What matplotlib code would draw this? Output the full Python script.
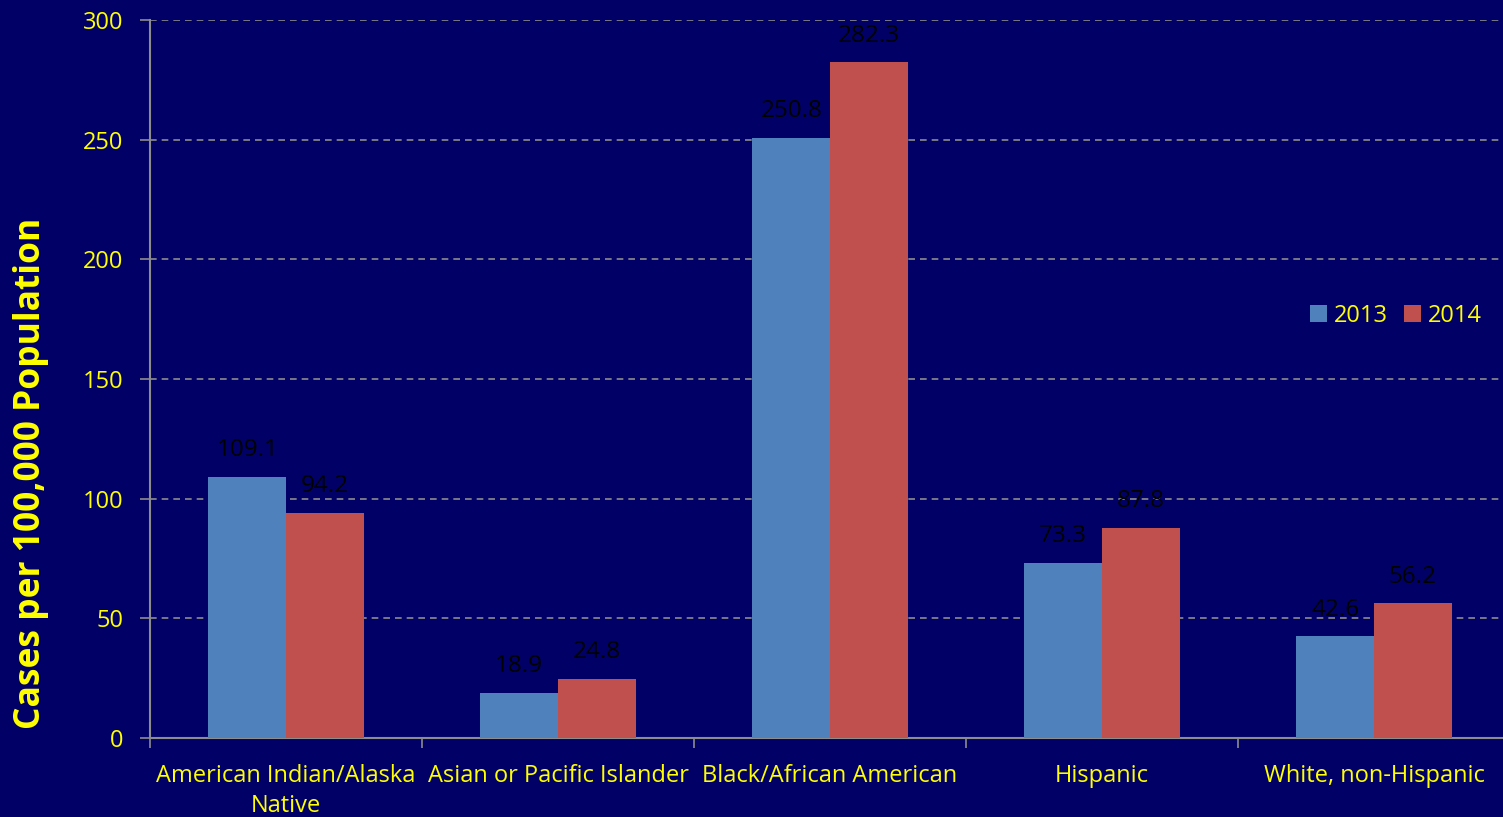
import matplotlib.pyplot as plt
import numpy as np

categories = ['American Indian/Alaska\nNative', 'Asian or Pacific Islander',
              'Black/African American', 'Hispanic', 'White, non-Hispanic']
rates_2013 = [109.1, 18.9, 250.8, 73.3, 42.6]
rates_2014 = [94.2, 24.8, 282.3, 87.8, 56.2]
years = ['2013', '2014']

bg = '#000066'
yellow = '#FFFF00'
grey = '#8C8C8C'

plt.rcParams['font.family'] = ['Open Sans', 'DejaVu Sans']

fig = plt.figure(figsize=(15.03, 8.17), dpi=100, facecolor=bg)
ax = fig.add_axes([150 / 1503, 79 / 817, 1360 / 1503, 718 / 817])
ax.set_facecolor(bg)

x = np.arange(len(categories))
w = 0.285
b1 = ax.bar(x - w / 2, rates_2013, w, color='#4F81BD', label=years[0], zorder=3)
b2 = ax.bar(x + w / 2, rates_2014, w, color='#C0504D', label=years[1], zorder=3)

for bars, vals in [(b1, rates_2013), (b2, rates_2014)]:
    for bar, v in zip(bars, vals):
        ax.annotate(f'{v}', (bar.get_x() + bar.get_width() / 2, v),
                    xytext=(0, 19), textcoords='offset points',
                    ha='center', va='center', fontsize=17.5, color='black')

ax.set_xlim(-0.5, len(categories) - 0.5)
ax.set_ylim(0, 300)
ax.set_yticks(range(0, 301, 50))
ax.yaxis.grid(True, linestyle=(0, (4, 3)), color=grey, linewidth=1.2, zorder=0)

ax.set_xticks(np.arange(-0.5, len(categories), 1))
ax.set_xticklabels([])
ax.set_xticks(x, minor=True)
ax.set_xticklabels(categories, minor=True, linespacing=1.3)
ax.tick_params(axis='x', which='major', length=7, color=grey, width=1.2)
ax.tick_params(axis='x', which='minor', length=0, pad=19, labelsize=17, labelcolor=yellow)
ax.tick_params(axis='y', length=7, color=grey, width=1.2, labelsize=17,
               labelcolor=yellow, pad=12)

for s in ['top', 'right']:
    ax.spines[s].set_visible(False)
for s in ['left', 'bottom']:
    ax.spines[s].set_color(grey)
    ax.spines[s].set_linewidth(1.5)

ax.set_ylabel('Cases per 100,000 Population', fontsize=25.5, fontweight='bold',
              color=yellow)
ax.yaxis.set_label_coords(-0.074, 0.368)

leg = ax.legend(loc='center right', bbox_to_anchor=(0.995, 0.588), ncol=2, frameon=False,
                fontsize=17, handlelength=0.7, handleheight=0.7,
                handletextpad=0.3, columnspacing=0.7)
for t in leg.get_texts():
    t.set_color(yellow)

fig.savefig('out.png', dpi=100, facecolor=bg)
